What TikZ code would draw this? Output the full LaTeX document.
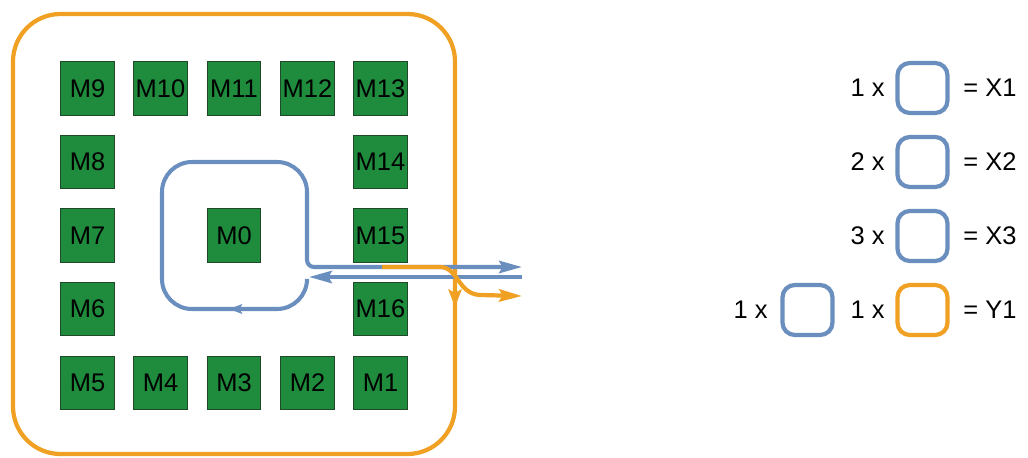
\documentclass[tikz,border=0pt]{standalone}
\usepackage{fontspec}
\setmainfont{Liberation Sans}
\usetikzlibrary{arrows.meta}
\definecolor{mgreen}{HTML}{1E8C3C}
\definecolor{mborder}{HTML}{1F4A2A}
\definecolor{lblue}{HTML}{6A8FBF}
\definecolor{lorange}{HTML}{F0A023}
\begin{document}
\begin{tikzpicture}[x=0.02cm,y=-0.02cm,
  mod/.style={draw=mborder,line width=0.7pt,fill=mgreen,minimum size=1.07cm,inner sep=0pt,font=\fontsize{14.5}{16}\selectfont},
  lbl/.style={inner sep=0pt,font=\fontsize{14.5}{16}\selectfont},
  bline/.style={draw=lblue,line width=2.3pt},
  oline/.style={draw=lorange,line width=2.4pt},
  longtip/.style={-{Stealth[length=13pt,width=7pt,inset=2pt]}},
  midtip/.style={-{Stealth[length=10pt,width=7.5pt,inset=2pt]}},
  smalltip/.style={-{Stealth[length=7.5pt,width=5.5pt,inset=1.5pt]}},
  lbox/.style={rounded corners=7pt,minimum size=1.0cm,inner sep=0pt,line width=2.4pt}]
\useasboundingbox (0,0) rectangle (1028,457);
% outer orange region
\draw[oline,rounded corners=0.95cm] (13,14) rectangle (455,454);
\coordinate (ostart) at (455,250);
\coordinate (oend) at (455,307);
\draw[oline,midtip] (ostart) -- (oend);
% modules
\node[mod] (M9)  at (87.5,88.5) {M9};
\node[mod] (M10) at (160.5,88.5) {M10};
\node[mod] (M11) at (234,88.5) {M11};
\node[mod] (M12) at (307.5,88.5) {M12};
\node[mod] (M13) at (380.5,88.5) {M13};
\node[mod] (M8)  at (87.5,162) {M8};
\node[mod] (M14) at (380.5,162) {M14};
\node[mod] (M7)  at (87.5,235.5) {M7};
\node[mod] (M0)  at (234,235.5) {M0};
\node[mod] (M15) at (380.5,235.5) {M15};
\node[mod] (M6)  at (87.5,309) {M6};
\node[mod] (M16) at (380.5,309) {M16};
\node[mod] (M5)  at (87.5,383) {M5};
\node[mod] (M4)  at (160.5,383) {M4};
\node[mod] (M3)  at (234,383) {M3};
\node[mod] (M2)  at (307.5,383) {M2};
\node[mod] (M1)  at (380.5,383) {M1};
% blue loop
\coordinate (lstart) at (307,282);
\coordinate (bout) at (522,267);
\coordinate (bin) at (522,277);
\coordinate (binend) at (309,277);
\draw[bline,longtip] (lstart) [rounded corners=0.6cm] -- (307,309) -- (162,309) -- (162,162) -- (307,162) [rounded corners=4pt] -- (307,267) [sharp corners] -- (bout);
\coordinate (ma) at (255,309);
\coordinate (mb) at (229,309);
\draw[bline,smalltip] (ma) -- (mb);
\draw[bline,longtip] (bin) -- (binend);
% orange branch
\coordinate (obstart) at (382,267);
\coordinate (obend) at (522,296);
\draw[oline,longtip] (obstart) -- (440,267) .. controls (458,267) and (458,294) .. (480,295) -- (obend);
% legend
\node[lbl,anchor=east] (t1) at (885,88) {1 x};
\node[lbox,draw=lblue] (b1) at (922.5,88) {};
\node[lbl,anchor=west] (r1) at (963,88) {= X1};
\node[lbl,anchor=east] (t2) at (885,162) {2 x};
\node[lbox,draw=lblue] (b2) at (922.5,162) {};
\node[lbl,anchor=west] (r2) at (963,162) {= X2};
\node[lbl,anchor=east] (t3) at (885,236) {3 x};
\node[lbox,draw=lblue] (b3) at (922.5,236) {};
\node[lbl,anchor=west] (r3) at (963,236) {= X3};
\node[lbl,anchor=east] (t4a) at (768,310) {1 x};
\node[lbox,draw=lblue] (b4a) at (807.5,310) {};
\node[lbl,anchor=east] (t4b) at (885,310) {1 x};
\node[lbox,draw=lorange] (b4b) at (922.5,310) {};
\node[lbl,anchor=west] (r4) at (963,310) {= Y1};
\end{tikzpicture}
\end{document}
